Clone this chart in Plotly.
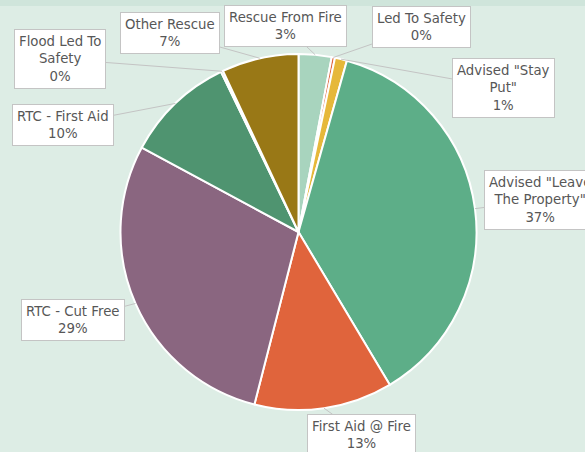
import math
import plotly.graph_objects as go

categories = ["Rescue From Fire", "Led To Safety", 'Advised "Stay Put"',
              'Advised "Leave The Property"', "First Aid @ Fire", "RTC - Cut Free",
              "RTC - First Aid", "Flood Led To Safety", "Other Rescue"]
display_labels = ["Rescue From Fire", "Led To Safety", 'Advised "Stay<br>Put"',
                  'Advised "Leave<br>The Property"', "First Aid @ Fire", "RTC - Cut Free",
                  "RTC - First Aid", "Flood Led To<br>Safety", "Other Rescue"]
values = [3.0, 0.3, 1.1, 37.2, 12.6, 29.0, 10.0, 0.2, 7.0]
colors = ["#a8d4be", "#e0643c", "#e6b83a", "#5dae88", "#e0643c", "#8a6680",
          "#4f9470", "#4f9470", "#997816"]
# label box centres in pixel space (layout only)
label_pos = [(285, 26), (421, 27), (503, 88), (540, 200), (361, 435),
             (73, 320), (63, 125), (60, 59), (170, 33)]

W, H = 585, 452
cx, cy, r = 298.5, 232, 178

fig = go.Figure()
fig.add_trace(go.Pie(
    labels=categories, values=values, sort=False, direction="clockwise",
    rotation=0, textinfo="none", hoverinfo="label+percent",
    marker=dict(colors=colors, line=dict(color="white", width=2)),
    domain=dict(x=[(cx - r) / W, (cx + r) / W], y=[(H - cy - r) / H, (H - cy + r) / H]),
    showlegend=False,
))

total = sum(values)
cum = 0.0
annotations = []
for cat, disp, v, (lx, ly) in zip(categories, display_labels, values, label_pos):
    mid = (cum + v / 2) / total * 2 * math.pi
    cum += v
    hx = cx + r * math.sin(mid)
    hy = cy - r * math.cos(mid)
    pct = round(v / total * 100)
    annotations.append(dict(
        x=hx, y=hy, xref="x", yref="y", ax=lx, ay=ly, axref="x", ayref="y",
        text=f"{disp}<br>{pct}%", showarrow=True, arrowhead=0, arrowwidth=1,
        arrowcolor="#c4c4c4", standoff=0, startstandoff=0,
        bgcolor="white", bordercolor="#c4c4c4", borderwidth=1, borderpad=4,
        font=dict(family="DejaVu Sans, sans-serif", size=13.3, color="#575757"),
        align="center",
    ))

fig.update_layout(
    width=W, height=H, margin=dict(l=0, r=0, t=0, b=0),
    paper_bgcolor="#ddede5", plot_bgcolor="rgba(0,0,0,0)",
    xaxis=dict(range=[0, W], visible=False, fixedrange=True),
    yaxis=dict(range=[H, 0], visible=False, fixedrange=True),
    annotations=annotations,
    shapes=[dict(type="rect", xref="paper", yref="paper", x0=0, x1=1,
                 y0=1 - 6 / H, y1=1, fillcolor="#cfe5db", line=dict(width=0), layer="below")],
)

fig.write_html("out.html", config={"displayModeBar": False},
               post_script="document.body.style.margin='0';")
